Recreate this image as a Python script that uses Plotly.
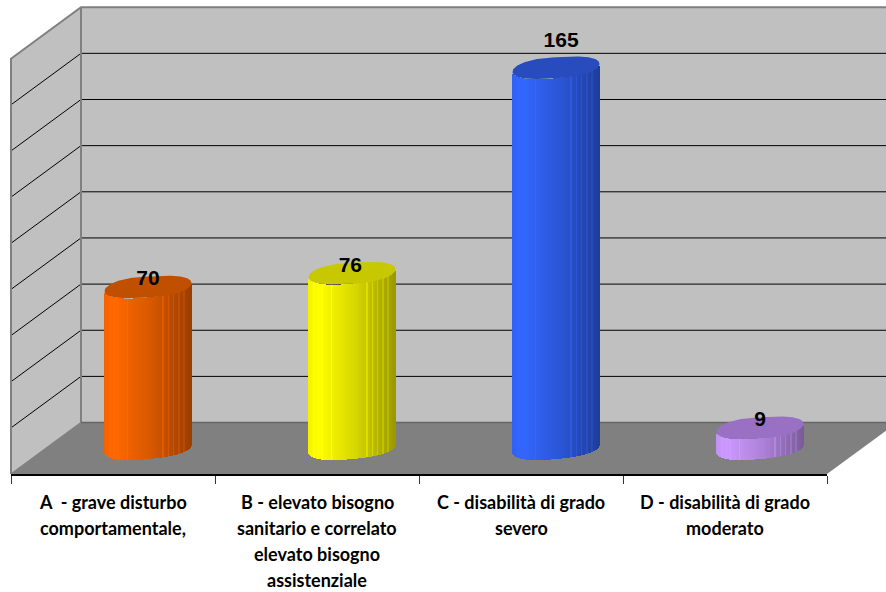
import numpy as np
import plotly.graph_objects as go

# Chart data
categories = [
    ["A  - grave disturbo", "comportamentale,"],
    ["B - elevato bisogno", "sanitario e correlato", "elevato bisogno", "assistenziale"],
    ["C - disabilità di grado", "severo"],
    ["D - disabilità di grado", "moderato"],
]
values = [70, 76, 165, 9]
grid_values = list(range(0, 200, 20))

# Cylinder colours: brightest side colour and the flat top colour
side_colors = [(255, 104, 0), (255, 255, 0), (51, 102, 255), (204, 153, 255)]
top_colors = [(192, 80, 0), (200, 200, 0), (40, 76, 190), (153, 112, 196)]

# Canvas scale: pixels per category and per value unit
W, H = 886, 592
PLOT_BOTTOM = 474.5
X_UNIT = 204.0
Y_UNIT = 2.31
ZERO_PX_X = 113.0
ZERO_PX_Y = 449.0

# Oblique depth of the box, in axis units
DEPTH_X = 70 / X_UNIT
DEPTH_BACK = 26 / Y_UNIT
DEPTH_FRONT = (PLOT_BOTTOM - ZERO_PX_Y) / Y_UNIT
LEFT = -0.5
RIGHT = 3.5
X_MIN = -ZERO_PX_X / X_UNIT
X_MAX = (W - ZERO_PX_X) / X_UNIT
Y_MIN = -DEPTH_FRONT
Y_MAX = ZERO_PX_Y / Y_UNIT

# Cylinder shape
CYL_SHIFT = 35 / X_UNIT
CYL_A = 43.5 / X_UNIT
CYL_B = 10.5 / Y_UNIT
CYL_TILT = 4.0 / Y_UNIT

WALL = "#C0C0C0"
EDGE = "#808080"

fig = go.Figure()


def polygon(xs, ys, fill, axes=("x", "y")):
    fig.add_trace(go.Scatter(
        x=xs, y=ys, xaxis=axes[0], yaxis=axes[1], mode="lines", fill="toself",
        fillcolor=fill, line=dict(color=fill, width=0), hoverinfo="skip",
        showlegend=False,
    ))


def segment(xs, ys, color, width):
    fig.add_trace(go.Scatter(
        x=xs, y=ys, mode="lines", line=dict(color=color, width=width),
        hoverinfo="skip", showlegend=False,
    ))


back_left = LEFT + DEPTH_X
back_top = grid_values[-1] + DEPTH_BACK
back_floor = DEPTH_BACK

# Back wall, side wall and floor
polygon([back_left, X_MAX + 1, X_MAX + 1, back_left, back_left],
        [back_floor, back_floor, back_top, back_top, back_floor], WALL)
polygon([LEFT, back_left, back_left, LEFT, LEFT],
        [-DEPTH_FRONT, back_floor, back_top, grid_values[-1] - DEPTH_FRONT, -DEPTH_FRONT], WALL)
polygon([LEFT, back_left, RIGHT + DEPTH_X, RIGHT, LEFT],
        [-DEPTH_FRONT, back_floor, back_floor, -DEPTH_FRONT, -DEPTH_FRONT], EDGE)

# Gridlines run along the side wall and across the back wall
for v in grid_values[1:-1]:
    segment([LEFT, back_left, X_MAX + 1],
            [v - DEPTH_FRONT, v + DEPTH_BACK, v + DEPTH_BACK], "#000000", 1)

# Wall edges
segment([LEFT, LEFT, back_left, X_MAX + 1],
        [-DEPTH_FRONT, grid_values[-1] - DEPTH_FRONT, back_top, back_top], EDGE, 2)
segment([back_left, back_left], [back_floor, back_top], EDGE, 2)
segment([back_left, X_MAX + 1], [back_floor, back_floor], "#666666", 1.5)
segment([LEFT, back_left], [-DEPTH_FRONT, back_floor], EDGE, 1.5)

# Lighter facets on the curved side
FACETS = [0.07, 0.16, 0.27, 0.68, 0.74, 0.8, 0.86, 0.92]


def side_color(rgb, u):
    f = np.interp(u, [0, 0.12, 0.55, 1], [0.95, 1.0, 0.84, 0.6])
    if any(abs(u - c) < 0.008 for c in FACETS):
        f = min(1.0, f * 1.13)
    return "rgb({},{},{})".format(*[int(round(c * f)) for c in rgb])


# Cylinders sit on an overlaid axis pair so they draw above the box:
# vertical strips for the side, a rounded ellipse for the top
for i, value in enumerate(values):
    cx = i + CYL_SHIFT
    n = 87
    u = (np.arange(n) + 0.5) / n
    s = 2 * u - 1
    front = -CYL_B * (1 - np.abs(s) ** 2.6) ** 0.5 + CYL_TILT * s
    fig.add_trace(go.Bar(
        x=cx + s * CYL_A,
        y=[value] * n,
        base=front,
        width=2 * CYL_A / n * 1.25,
        xaxis="x2", yaxis="y2",
        marker=dict(color=[side_color(side_colors[i], t) for t in u], line=dict(width=0)),
        hoverinfo="skip",
        showlegend=False,
    ))
    t = np.linspace(0, 2 * np.pi, 181)
    cos_r = np.sign(np.cos(t)) * np.abs(np.cos(t)) ** 0.72
    polygon(cx + CYL_A * cos_r,
            value + CYL_B * np.sin(t) + CYL_TILT * np.cos(t),
            "rgb({},{},{})".format(*top_colors[i]), axes=("x2", "y2"))

# Value labels
label_dx = [0.0, -0.008, 0.025, 0.0]
label_dy = [3.2, 2.8, 11.2, 3.2]
fig.add_trace(go.Scatter(
    x=[i + CYL_SHIFT + label_dx[i] for i in range(len(values))],
    y=[v + label_dy[i] for i, v in enumerate(values)],
    xaxis="x2", yaxis="y2",
    mode="text",
    text=[str(v) for v in values],
    textposition="middle center",
    textfont=dict(family="Liberation Sans", size=21, color="#000000", weight=700),
    hoverinfo="skip",
    showlegend=False,
    cliponaxis=False,
))

# Category axis: an empty trace keeps the axis with its baseline and ticks on the page
fig.add_trace(go.Scatter(
    x=[LEFT, RIGHT], y=[Y_MIN, Y_MIN], xaxis="x3", yaxis="y", mode="lines",
    line=dict(width=0), hoverinfo="skip", showlegend=False,
))

# Category labels, one annotation per line for the wide line spacing
LINE_STEP = 26.3
annotations = []
for i, lines in enumerate(categories):
    for k, line in enumerate(lines):
        annotations.append(dict(
            x=i, xref="x", y=0, yref="paper", yanchor="middle", showarrow=False,
            yshift=-(502 + k * LINE_STEP - PLOT_BOTTOM),
            text=line,
            font=dict(family="Lato", size=18, color="#000000", weight=700),
        ))

shared_x = dict(range=[X_MIN, X_MAX], showgrid=False, zeroline=False, showline=False,
                showticklabels=False, ticks="")
shared_y = dict(range=[Y_MIN, Y_MAX], showgrid=False, zeroline=False, showline=False,
                showticklabels=False, ticks="")

fig.update_layout(
    width=W, height=H,
    margin=dict(l=0, r=0, t=0, b=H - PLOT_BOTTOM, pad=0),
    autosize=False,
    barmode="overlay",
    bargap=0,
    paper_bgcolor="#FFFFFF",
    plot_bgcolor="rgba(0,0,0,0)",
    showlegend=False,
    hovermode=False,
    annotations=annotations,
    xaxis=shared_x,
    yaxis=shared_y,
    xaxis2=dict(shared_x, overlaying="x", anchor="y2"),
    yaxis2=dict(shared_y, overlaying="y", anchor="x2"),
    xaxis3=dict(
        domain=[(ZERO_PX_X + LEFT * X_UNIT) / W, (ZERO_PX_X + RIGHT * X_UNIT) / W],
        range=[LEFT, RIGHT], anchor="y", showgrid=False, zeroline=False,
        showline=True, linecolor="#000000", linewidth=1.5,
        tickmode="array", tickvals=[-0.5, 0.5, 1.5, 2.5, 3.5], ticktext=[""] * 5,
        ticks="outside", ticklen=8, tickwidth=1, tickcolor="#333333",
    ),
)

fig.write_html("out.html", config=dict(displayModeBar=False))
